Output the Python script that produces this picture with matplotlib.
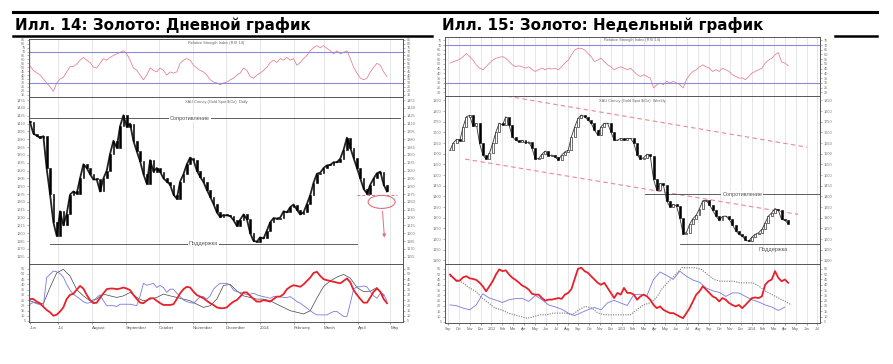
import numpy as np
import matplotlib.pyplot as plt
from matplotlib.patches import Ellipse
from matplotlib.ticker import MultipleLocator, FixedLocator

plt.rcParams['font.family'] = ['Liberation Sans', 'DejaVu Sans']

# ---------- Илл. 14: дневной график ----------
day_close = [1413, 1391, 1387, 1383, 1386, 1324, 1275, 1221, 1195, 1242, 1215, 1237, 1274, 1280, 1276,
             1305, 1332, 1325, 1313, 1303, 1303, 1280, 1305, 1320, 1352, 1377, 1364, 1405, 1426, 1404,
             1410, 1377, 1357, 1338, 1313, 1295, 1340, 1318, 1325, 1318, 1305, 1299, 1293, 1274, 1266,
             1299, 1313, 1332, 1345, 1340, 1320, 1308, 1298, 1283, 1270, 1256, 1240, 1231, 1235, 1234,
             1233, 1225, 1214, 1226, 1236, 1227, 1200, 1185, 1184, 1192, 1190, 1205, 1221, 1229, 1228,
             1230, 1242, 1240, 1250, 1255, 1245, 1236, 1240, 1256, 1273, 1297, 1314, 1316, 1325, 1330,
             1331, 1336, 1336, 1343, 1360, 1383, 1364, 1344, 1325, 1305, 1285, 1276, 1293, 1305, 1315,
             1318, 1293, 1280]
day_rsi = [52, 46, 43, 40, 35, 30, 25, 19, 30, 35, 37, 44, 51, 51, 54, 59, 62.5, 59, 56, 50, 49, 55, 61,
           59, 62.5, 65, 67, 69, 71, 67, 59, 49, 46, 40, 34, 40, 49, 46, 44, 49, 46, 40, 44, 42.5, 44, 55,
           59, 61, 59, 52.5, 49, 46, 44, 40, 34, 31, 30, 27.5, 30, 31, 34, 36, 40, 42.5, 49, 46, 38, 36, 40,
           42.5, 46, 50, 56, 59, 56, 61, 59, 62.5, 59, 61, 52.5, 56, 61, 65, 71, 75, 77.5, 75, 77.5, 74, 71,
           67, 71, 67, 69, 71, 61, 50, 42.5, 36, 34, 36, 44, 50, 55, 52.5, 44, 38]
day_red = [26, 26, 23.5, 22, 18.5, 15.5, 13.3, 10, 11, 14, 18, 26, 30, 31, 35, 38.5, 36, 30, 25, 22, 22.5,
           27, 31.5, 35.4, 36, 36, 35.4, 36, 37, 36, 34.5, 30, 26, 22.5, 22, 24.5, 26.7, 26.7, 24.3, 22,
           20.3, 20.3, 20.3, 21, 26, 31.5, 35.4, 37.7, 37, 33, 29.8, 28.3, 26.7, 24.3, 22, 20.3, 18, 17.2,
           17.2, 18, 21, 23.5, 25, 28.3, 32.3, 32.3, 29, 26, 23.5, 23.5, 25, 24.3, 23.5, 26, 28.3, 28.3,
           30.7, 35.4, 37.7, 39.2, 38.5, 37.7, 40, 43.3, 46.5, 51, 52, 48, 45, 44, 43.3, 42.5, 41.7, 41,
           43.3, 45.7, 42, 34.5, 30, 26, 22.5, 22.5, 27.5, 33, 36, 33, 26, 22]
day_blue = [21, 22.8, 21.5, 20.5, 19.6, 46.5, 49.6, 52.8, 52, 50.4, 47, 40, 34.5, 30.7, 28.3, 26, 23.5, 22,
            22.5, 23.5, 27.5, 30, 24.3, 19.6, 19.6, 19.6, 18.8, 21, 21, 21, 21, 20.3, 19.6, 29, 41, 39.2,
            40, 41, 37, 39, 37, 32.3, 35.4, 35.4, 31.5, 28.3, 25, 23.5, 22.5, 22, 25, 28.3, 28.3, 26, 29,
            35.4, 38.5, 41, 41, 41, 39.2, 34.5, 33, 32.3, 31.5, 30, 30.7, 31.5, 30, 29, 28.3, 27.5, 26.7,
            28.3, 28.3, 28.3, 27.5, 27.5, 28.3, 26, 23.5, 22, 19.6, 17.2, 14.8, 12.5, 10.8, 10.8, 10.8,
            10.8, 12.5, 14, 14, 11.7, 9.3, 9.3, 22, 35.4, 37.7, 37.7, 38.5, 37.7, 33, 29, 26.7, 31.5, 30.7, 24]
day_adx = [24.3, 22, 21.5, 37, 51, 54.4, 48, 35, 29, 24.3, 25.9, 30.7, 29, 27.5, 29, 32.3, 27.5, 24.3,
           25.9, 27.5, 30.7, 29, 27.5, 25.9, 24.3, 21, 18, 19.6, 25.9, 39, 40, 33.8, 29, 27.5, 25.9, 25.9,
           24.3, 21, 18, 14.8, 13.3, 11.7, 14.8, 27, 38, 43.3, 47, 49.5, 46, 37, 33, 33.5, 37, 29]
day_months = ['Jun', 'Jul', 'August', 'September', 'October', 'November', 'December', '2014',
              'February', 'March', 'April', 'May']
day_month_pos = [0, 8.4, 18.6, 28.7, 38.6, 48.8, 58.7, 68.9, 79, 88, 98.2, 108]
day_resistance = 1420
day_support = 1180
day_break = 1274
day_target = 1186

# ---------- Илл. 15: недельный график ----------
week_close = [1617, 1650, 1668, 1662, 1727, 1774, 1780, 1728, 1743, 1649, 1595, 1575, 1602, 1649, 1703,
              1743, 1735, 1774, 1735, 1680, 1664, 1656, 1664, 1649, 1656, 1625, 1575, 1578, 1598, 1613,
              1590, 1594, 1586, 1570, 1594, 1609, 1617, 1680, 1727, 1766, 1782, 1774, 1758, 1743, 1711,
              1688, 1727, 1743, 1743, 1703, 1664, 1664, 1672, 1664, 1672, 1672, 1649, 1595, 1574, 1582,
              1598, 1590, 1480, 1429, 1461, 1453, 1380, 1350, 1363, 1355, 1300, 1226, 1230, 1270, 1296,
              1312, 1343, 1380, 1382, 1362, 1335, 1308, 1288, 1306, 1308, 1292, 1268, 1240, 1222, 1214,
              1195, 1190, 1210, 1222, 1230, 1245, 1276, 1308, 1323, 1343, 1335, 1292, 1288, 1272]
week_rsi = [50.8, 52.5, 53.5, 55, 57.7, 61, 57.7, 54, 49, 45.5, 43.8, 47, 50.8, 54, 56, 57, 57.7, 56, 52.5,
            49, 47, 48, 47, 45.5, 47, 43.8, 42, 43.8, 45.5, 43.8, 45.5, 44.5, 45.5, 43.8, 47, 50.8, 54,
            59.5, 64.8, 66.5, 66.5, 64.8, 61, 57.7, 52.5, 54, 56, 52.5, 49, 47, 43.8, 45.5, 47, 45.5, 43.8,
            45.5, 42, 38.5, 36.7, 38.5, 36.7, 35, 24.5, 28, 29.8, 28, 31.5, 29.8, 31.5, 29.8, 28, 24.5,
            33.3, 38.5, 42, 43.8, 47, 49, 47, 45.5, 42, 43.8, 42, 45.5, 43.8, 42, 38.5, 36.7, 35, 35, 33.3,
            36.7, 40.3, 42, 43.8, 45.5, 50.8, 54, 56, 59.5, 62, 52, 51, 48]
week_red = [49.6, 46.5, 43.5, 44, 47, 48, 46, 45.5, 44.5, 42, 38.5, 33.8, 38.5, 43.3, 49.6, 54.4, 52.8,
            53.5, 49.6, 46.5, 44.5, 42, 39.2, 37.7, 35.4, 31.5, 30.7, 30.7, 27.5, 25, 26, 26, 26.7, 27.5,
            26.7, 30.7, 32.3, 36, 45.7, 55, 56, 52.8, 51.2, 48, 44.9, 41.8, 40, 41.8, 37, 32.3, 27.5, 32.3,
            30.7, 37, 32.3, 32.3, 30.7, 25.9, 29, 30.7, 29, 25.9, 21, 18, 19.6, 16.4, 14.8, 13.3, 13.3,
            11.7, 10, 8.5, 13.3, 18, 24.3, 30.7, 33.8, 38.5, 35.4, 32.3, 29, 27.5, 24.3, 27.5, 25.9, 22.8,
            21, 19.6, 21, 18, 21, 24.3, 27.5, 28, 27.5, 29, 40, 43.3, 44.9, 52.8, 46.5, 43.3, 44.9, 41.8]
week_blue = [21, 20.3, 18, 16.4, 21, 31.5, 27.5, 25.5, 23.3, 25.9, 27, 27.2, 24.3, 30, 25.9, 21, 19.2, 17,
             13.3, 11, 13.8, 16.4, 18.6, 16.4, 23, 25.3, 22.8, 20.5, 30.7, 31, 30, 45, 52, 48.8, 45, 52.8,
             48, 44.4, 42.3, 37, 34.3, 32.8, 29, 32.3, 32.3, 29, 25.9, 23.8, 21, 19, 15.8, 19]
week_adx = [48, 44.9, 41.8, 37, 33.8, 27.5, 22.8, 18, 16.4, 13.3, 11.7, 10, 8.5, 10, 11.7, 11.7, 13.3,
            13.3, 13.3, 11.7, 16.4, 19.6, 18, 13.3, 11.7, 11.7, 11.7, 11.7, 11.7, 16.4, 21, 22.8, 27.5,
            37, 43.3, 49.6, 56, 56, 56, 54.4, 49.6, 44.9, 43.3, 43.3, 43.3, 41.8, 41.8, 41.8, 38.5, 33.8,
            30.7, 27.5, 24.3, 21]
week_months = ['Sep', 'Oct', 'Nov', 'Dec', '2012', 'Feb', 'Mar', 'Apr', 'May', 'Jun', 'Jul', 'Aug',
               'Sep', 'Oct', 'Nov', 'Dec', '2013', 'Feb', 'Mar', 'Apr', 'May', 'Jun', 'Jul', 'Aug',
               'Sep', 'Oct', 'Nov', 'Dec', '2014', 'Feb', 'Mar', 'Apr', 'May', 'Jun', 'Jul']
week_resistance = 1410
week_support = 1175
week_trend_upper = [(17.4, 1870), (108.8, 1631)]
week_trend_lower = [(4.6, 1575), (106, 1316)]

W, H = 893, 364
fig = plt.figure(figsize=(W / 100, H / 100), dpi=100)

# рамка с заголовками в пикселях
bg = fig.add_axes([0, 0, 1, 1], zorder=0)
bg.set_xlim(0, W)
bg.set_ylim(H, 0)
bg.axis('off')
bg.plot([13, 877], [12, 12], color='black', lw=2.2)
bg.plot([13, 432], [36, 36], color='black', lw=1.8)
bg.plot([835, 877], [36, 36], color='black', lw=1.8)
bg.text(15, 30, 'Илл. 14: Золото: Дневной график', fontsize=10.9, fontweight='bold',
        va='baseline', family='DejaVu Sans')
bg.text(442, 30, 'Илл. 15: Золото: Недельный график', fontsize=10.9, fontweight='bold',
        va='baseline', family='DejaVu Sans')


def box(x0, y0, x1, y1):
    return [x0 / W, 1 - y1 / H, (x1 - x0) / W, (y1 - y0) / H]


def panel(rect, xlim, ylim, step, grid_pos):
    ax = fig.add_axes(box(*rect), zorder=1)
    ax.set_xlim(*xlim)
    ax.set_ylim(*ylim)
    ax.yaxis.set_major_locator(MultipleLocator(step))
    ax.tick_params(axis='y', left=True, right=True, labelleft=True, labelright=True,
                   labelsize=2.8, colors='#777777', length=1.5, width=0.4, pad=1)
    ax.tick_params(axis='x', bottom=False, labelbottom=False)
    ax.xaxis.set_major_locator(FixedLocator(grid_pos))
    ax.grid(axis='x', color='#dcdcdc', lw=0.5)
    for s in ax.spines.values():
        s.set_color('#555555')
        s.set_linewidth(0.7)
    return ax


def candles(ax, closes, hollow_up, width):
    c = np.array(closes, dtype=float)
    o = np.r_[c[0], c[:-1]]
    x = np.arange(len(c))
    up = c >= o
    body = np.maximum(np.abs(c - o), 2)
    faces = np.where(up & hollow_up, 'white', 'black')
    ax.bar(x, body, bottom=np.minimum(o, c), width=width, color=faces,
           edgecolor='black', linewidth=0.4, zorder=3)


def level(ax, y, x0, x1, label, lx, ly):
    ax.plot([x0, x1], [y, y], color='#444444', lw=0.6, zorder=2)
    ax.text(lx, ly, label, fontsize=4, color='#555555', ha='center', va='center', zorder=4,
            bbox=dict(facecolor='white', edgecolor='none', pad=0.6))


# ---------- левый график ----------
dlim = (-0.3, 111.8)
rsi_l = panel((29, 39, 403, 97), dlim, (12, 86), 5, day_month_pos)
rsi_l.plot(np.linspace(0, len(day_close) - 1, len(day_rsi)), day_rsi, color='#e87a8a', lw=0.55)
for lv in (70, 30):
    rsi_l.axhline(lv, color='#8a8ae0', lw=0.8)
rsi_l.text(0.5, 0.93, 'Relative Strength Index (RSI 14)', transform=rsi_l.transAxes,
           fontsize=2.8, color='#666666', ha='center', va='center')

px_l = panel((29, 97, 403, 264), dlim, (1141, 1461), 15, day_month_pos)
px_l.plot(np.arange(len(day_close)), day_close, color='#222222', lw=1.3, zorder=3)
candles(px_l, day_close, hollow_up=False, width=0.5)
px_l.text(0.5, 0.985, 'XAU Curncy (Gold Spot $/Oz)  Daily', transform=px_l.transAxes,
          fontsize=2.8, color='#666666', ha='center', va='top')
level(px_l, day_resistance, -0.3, 111, 'Сопротивление', 48, day_resistance)
level(px_l, day_support, 6, 98, 'Поддержка', 52, day_support)
px_l.plot([98, 110], [day_break, day_break], color='#e07080', lw=0.7, ls=(0, (3, 2)), zorder=4)
px_l.add_patch(Ellipse((105.4, 1260), 8.1, 25, fill=False, edgecolor='#e07080', lw=0.8, zorder=4))
px_l.annotate('', xy=(106.3, day_target), xytext=(105.6, 1247),
              arrowprops=dict(arrowstyle='-|>', color='#e07080', lw=0.7, mutation_scale=5), zorder=4)

dmi_l = panel((29, 264, 403, 322), dlim, (4, 59.5), 5, day_month_pos)
dmi_l.plot(np.linspace(0, 106, len(day_adx)), day_adx, color='#444444', lw=0.5)
dmi_l.plot(np.linspace(0, len(day_close) - 1, len(day_blue)), day_blue, color='#7878e0', lw=0.6)
dmi_l.plot(np.linspace(0, len(day_close) - 1, len(day_red)), day_red, color='#e8202a', lw=1.3)
dmi_l.tick_params(axis='x', bottom=True, labelbottom=True, labelsize=3.2, colors='#555555',
                  length=1.5, width=0.4, pad=1.5)
dmi_l.set_xticklabels(day_months, ha='left')

# ---------- правый график ----------
wlim = (-1.52, 112.7)
week_pos = np.linspace(-0.6, 111.9, len(week_months))
rsi_r = panel((445, 37, 820, 96), wlim, (16, 78.5), 5, week_pos)
rsi_r.plot(np.linspace(0, len(week_close) - 1, len(week_rsi)), week_rsi, color='#e87a8a', lw=0.55)
for lv in (70, 30):
    rsi_r.axhline(lv, color='#8a8ae0', lw=0.8)
rsi_r.text(0.5, 0.95, 'Relative Strength Index (RSI 14)', transform=rsi_r.transAxes,
           fontsize=2.8, color='#666666', ha='center', va='center')

px_r = panel((445, 96, 820, 264), wlim, (1083, 1871), 50, week_pos)
px_r.plot(np.arange(len(week_close)), week_close, color='#333333', lw=0.6, zorder=2.5)
candles(px_r, week_close, hollow_up=True, width=0.6)
px_r.text(0.5, 0.985, 'XAU Curncy (Gold Spot $/Oz)  Weekly', transform=px_r.transAxes,
          fontsize=2.8, color='#666666', ha='center', va='top')
for trend in (week_trend_upper, week_trend_lower):
    px_r.plot([p[0] for p in trend], [p[1] for p in trend],
              color='#e88a90', lw=0.8, ls=(0, (4, 3)), zorder=2)
level(px_r, week_resistance, 59.5, 113, 'Сопротивление', 89, week_resistance)
px_r.plot([70, 113], [week_support, week_support], color='#444444', lw=0.6, zorder=2)
px_r.text(98.5, 1150, 'Поддержка', fontsize=4, color='#555555', ha='center', va='center', zorder=4)

dmi_r = panel((445, 264, 820, 323), wlim, (4, 59.5), 5, week_pos)
dmi_r.plot(np.linspace(0, 104, len(week_adx)), week_adx, color='#777777', lw=0.8, ls=(0, (1, 1.2)))
dmi_r.plot(np.linspace(0, 102, len(week_blue)), week_blue, color='#7878e0', lw=0.6)
dmi_r.plot(np.linspace(0, len(week_close) - 1, len(week_red)), week_red, color='#e8202a', lw=1.3)
dmi_r.tick_params(axis='x', bottom=True, labelbottom=True, labelsize=2.6, colors='#555555',
                  length=1.5, width=0.4, pad=1.5)
dmi_r.set_xticklabels(week_months, ha='center')

fig.savefig('out.png', dpi=100, facecolor='white')
